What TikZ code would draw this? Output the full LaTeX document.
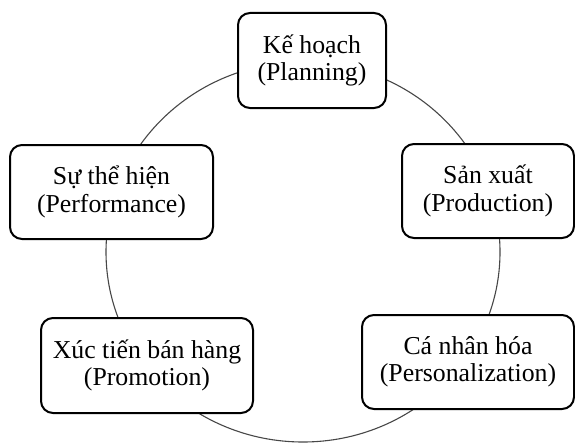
\documentclass[tikz,border=0pt]{standalone}
\usepackage{fontspec}
\setmainfont{Liberation Serif}
\begin{document}
\begin{tikzpicture}[x=1pt,y=-1pt,
  stage/.style={draw=black, line width=2pt, rounded corners=12pt, fill=white,
    align=center, inner sep=0pt, font=\fontsize{25.8}{27.5}\selectfont},
  ring/.style={draw=black!72, line width=1.1pt}]
\useasboundingbox (0,0) rectangle (575,444);
% the cycle behind the five stages
\draw[ring] (303,252) ellipse [x radius=197, y radius=190];
% stages
\node[stage, minimum width=148pt, minimum height=95pt] (plan) at (312,60.5) {Kế hoạch\\(Planning)};
\node[stage, minimum width=172pt, minimum height=94pt] (prod) at (488,191) {Sản xuất\\(Production)};
\node[stage, minimum width=212pt, minimum height=94pt] (pers) at (468,362) {Cá nhân hóa\\(Personalization)};
\node[stage, minimum width=212pt, minimum height=95pt] (prom) at (147,365.5) {Xúc tiến bán hàng\\(Promotion)};
\node[stage, minimum width=203pt, minimum height=94pt] (perf) at (111.5,192) {Sự thể hiện\\(Performance)};
\end{tikzpicture}
\end{document}
